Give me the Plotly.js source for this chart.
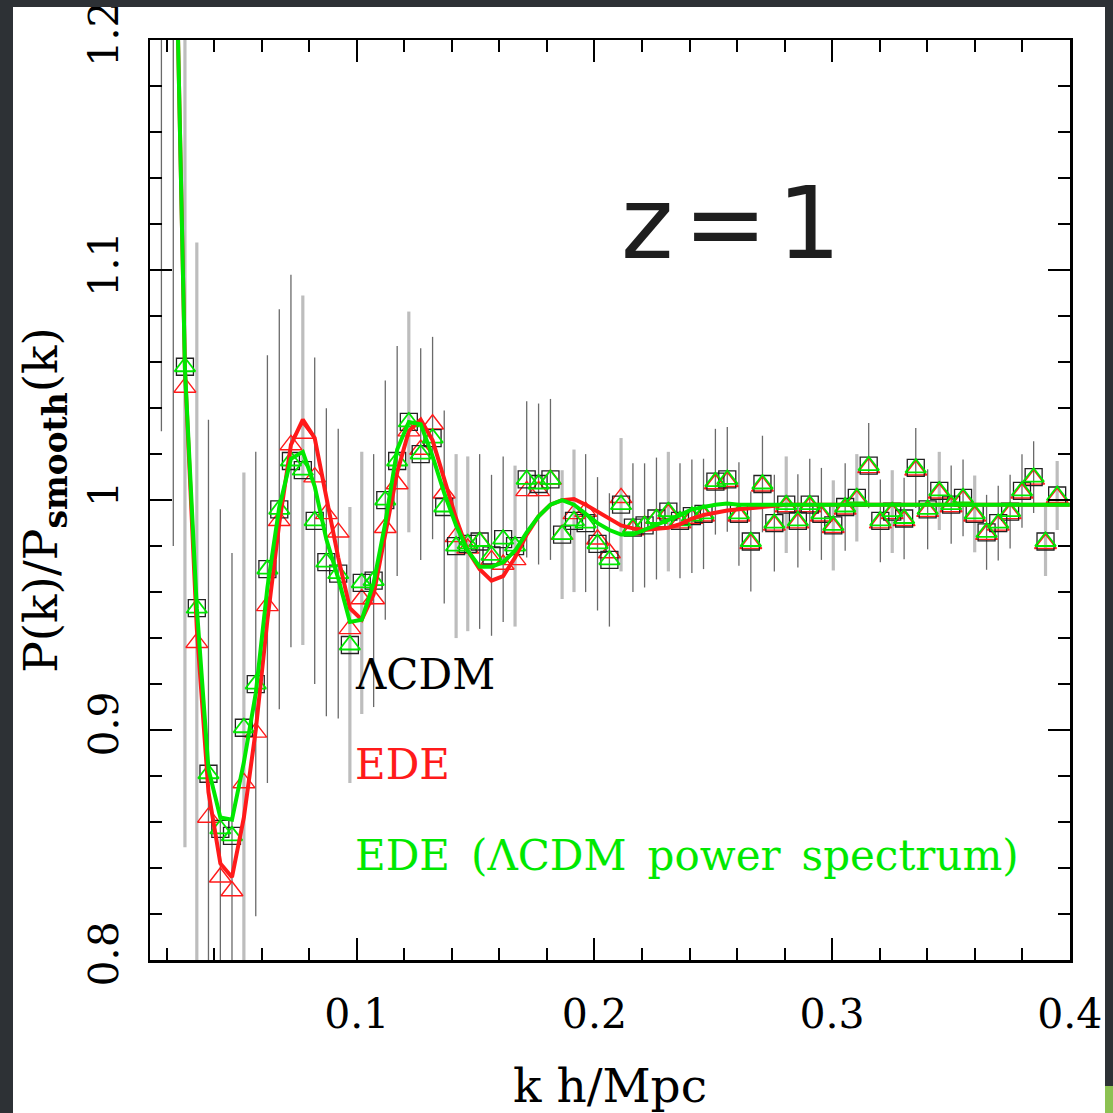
<!DOCTYPE html>
<html><head><meta charset="utf-8">
<script src="https://cdn.plot.ly/plotly-3.0.1.min.js"></script>
<style>
html,body{margin:0;padding:0;background:#2d3135;width:1113px;height:1113px;overflow:hidden}
#chart{position:absolute;left:13px;top:7px;width:1092px;height:1106px;background:#fff}
#corner{position:absolute;left:1105px;top:1086px;width:8px;height:27px;background:#8cc152}
</style></head><body>
<div id="chart"></div><div id="corner"></div>
<script>
// k bins (h/Mpc); the first two have their points above the frame
const k = [0.0178, 0.0228,
  0.0277, 0.0327, 0.0376, 0.0426, 0.0475, 0.0525, 0.0575, 0.0624, 0.0674, 0.0723,
  0.0773, 0.0823, 0.0872, 0.0922, 0.0971, 0.1021, 0.1071, 0.1120, 0.1170, 0.1219,
  0.1269, 0.1319, 0.1368, 0.1418, 0.1467, 0.1517, 0.1567, 0.1616, 0.1666, 0.1715,
  0.1765, 0.1815, 0.1864, 0.1914, 0.1963, 0.2013, 0.2063, 0.2112, 0.2162, 0.2211,
  0.2261, 0.2311, 0.2360, 0.2410, 0.2459, 0.2509, 0.2559, 0.2608, 0.2658, 0.2707,
  0.2757, 0.2807, 0.2856, 0.2906, 0.2955, 0.3005, 0.3055, 0.3104, 0.3154, 0.3203,
  0.3253, 0.3303, 0.3352, 0.3402, 0.3451, 0.3501, 0.3551, 0.3600, 0.3650, 0.3699,
  0.3749, 0.3799, 0.3848, 0.3898, 0.3947];
// LambdaCDM measured ratio (black squares; the green triangles sit on the same values)
const lcdm = [1.32, 1.30,
  1.058, 0.953, 0.881, 0.857, 0.854, 0.901, 0.920, 0.970, 0.996, 1.017,
  1.013, 0.991, 0.973, 0.968, 0.937, 0.964, 0.965, 1.000, 1.017, 1.034,
  1.020, 1.027, 0.997, 0.980, 0.981, 0.982, 0.976, 0.983, 0.980, 1.009,
  1.007, 1.009, 0.985, 0.991, 0.990, 0.981, 0.974, 0.998, 0.988, 0.989,
  0.992, 0.995, 0.991, 0.993, 0.994, 1.008, 1.009, 0.994, 0.982, 1.007,
  0.990, 0.998, 0.991, 0.998, 0.994, 0.989, 0.997, 1.001, 1.015, 0.991,
  0.995, 0.992, 1.014, 0.996, 1.004, 0.998, 1.001, 0.994, 0.986, 0.990,
  0.995, 1.004, 1.010, 0.982, 1.002];
// EDE measured ratio (red triangles)
const ede = [1.32, 1.30,
  1.049, 0.938, 0.862, 0.836, 0.830, 0.877, 0.899, 0.954, 0.991, 1.024,
  1.029, 1.010, 0.994, 0.986, 0.944, 0.957, 0.957, 0.988, 1.007, 1.030,
  1.022, 1.033, 1.003, 0.984, 0.979, 0.982, 0.974, 0.972, 0.974, 1.004,
  1.004, 1.009, 0.985, 0.994, 0.995, 0.983, 0.977, 1.001, 0.987, 0.989,
  0.992, 0.994, 0.990, 0.992, 0.993, 1.007, 1.008, 0.993, 0.981, 1.006,
  0.989, 0.997, 0.990, 0.997, 0.993, 0.988, 0.996, 1.000, 1.014, 0.990,
  0.994, 0.991, 1.013, 0.995, 1.003, 0.997, 1.000, 0.993, 0.985, 0.989,
  0.994, 1.003, 1.009, 0.981, 1.001];
// half length of the error bars
const errHalf = [0.29, 0.32,
  0.209, 0.159, 0.154, 0.139, 0.123, 0.111, 0.101, 0.093, 0.087, 0.081,
  0.076, 0.071, 0.067, 0.063, 0.060, 0.057, 0.055, 0.052, 0.050, 0.048,
  0.046, 0.044, 0.042, 0.040, 0.038, 0.038, 0.035, 0.036, 0.035, 0.034,
  0.035, 0.035, 0.028, 0.031, 0.030, 0.029, 0.029, 0.029, 0.028, 0.027,
  0.0265, 0.026, 0.025, 0.0247, 0.024, 0.023, 0.0228, 0.0225, 0.0217, 0.021,
  0.021, 0.021, 0.0203, 0.020, 0.020, 0.0196, 0.019, 0.019, 0.0185, 0.018,
  0.018, 0.0177, 0.0174, 0.0174, 0.017, 0.017, 0.0167, 0.0167, 0.0163, 0.0163,
  0.016, 0.016, 0.0156, 0.015, 0.015];
// bins whose error bar is drawn in the light grey tone (style)
const lightBarBins = [2, 3, 7, 12, 16, 17, 21, 25, 26, 30, 34, 35, 39, 43, 53, 57, 59, 62, 66, 69, 75, 76];

// model curves
const kCurve = [0.0240,
  0.0277, 0.0327, 0.0376, 0.0426, 0.0475, 0.0525, 0.0575, 0.0624, 0.0674, 0.0723,
  0.0773, 0.0823, 0.0872, 0.0922, 0.0971, 0.1021, 0.1071, 0.1120, 0.1170, 0.1219,
  0.1269, 0.1319, 0.1368, 0.1418, 0.1467, 0.1517, 0.1567, 0.1616, 0.1666, 0.1715,
  0.1765, 0.1815, 0.1864, 0.1914, 0.1963, 0.2013, 0.2063, 0.2112, 0.2162, 0.2211,
  0.2261, 0.2311, 0.2360, 0.2410, 0.2459, 0.2509, 0.2559, 0.2608, 0.2658, 0.2707,
  0.2757, 0.2807, 0.2856, 0.2906, 0.2955, 0.3005, 0.3055, 0.3104, 0.3154, 0.3203,
  0.3253, 0.3303, 0.3352, 0.3402, 0.3451, 0.3501, 0.3551, 0.3600, 0.3650, 0.3699,
  0.3749, 0.3799, 0.3848, 0.3898, 0.3947, 0.4000];
const edeCurve = [1.24,
  1.057, 0.944, 0.873, 0.842, 0.836, 0.862, 0.900, 0.948, 0.990, 1.024,
  1.035, 1.027, 1.001, 0.975, 0.953, 0.948, 0.959, 0.985, 1.012, 1.030,
  1.035, 1.026, 1.009, 0.992, 0.978, 0.970, 0.965, 0.967, 0.975, 0.985,
  0.993, 0.998, 1.000, 1.0005, 0.998, 0.995, 0.992, 0.989, 0.9877, 0.987,
  0.9875, 0.988, 0.9895, 0.992, 0.9935, 0.9945, 0.9955, 0.996, 0.9965, 0.997,
  0.9975, 0.998, 0.998, 0.998, 0.998, 0.998, 0.998, 0.998, 0.998, 0.998,
  0.998, 0.998, 0.998, 0.998, 0.998, 0.998, 0.998, 0.998, 0.998, 0.998,
  0.998, 0.998, 0.998, 0.998, 0.998, 0.998];
const edeLcdmPsCurve = [1.24,
  1.057, 0.953, 0.883, 0.862, 0.861, 0.886, 0.916, 0.962, 0.997, 1.018,
  1.021, 1.006, 0.983, 0.966, 0.947, 0.948, 0.964, 0.990, 1.022, 1.034,
  1.033, 1.019, 1.003, 0.989, 0.978, 0.971, 0.971, 0.973, 0.978, 0.986,
  0.993, 0.998, 1.000, 0.998, 0.994, 0.990, 0.987, 0.985, 0.985, 0.987,
  0.989, 0.9915, 0.9935, 0.996, 0.997, 0.998, 0.9985, 0.998, 0.998, 0.998,
  0.998, 0.998, 0.998, 0.998, 0.998, 0.998, 0.998, 0.998, 0.998, 0.998,
  0.998, 0.998, 0.998, 0.998, 0.998, 0.998, 0.998, 0.998, 0.998, 0.998,
  0.998, 0.998, 0.998, 0.998, 0.998, 0.998];

const xTickVals = [0.1, 0.2, 0.3, 0.4];
const xTickText = ['0.1', '0.2', '0.3', '0.4'];
const yTickVals = [0.8, 0.9, 1.0, 1.1, 1.2];
const yTickText = ['0.8', '0.9', '1', '1.1', '1.2'];
const labels = {lcdm: '\u039BCDM', ede: 'EDE', edePs: 'EDE\u2002(\u039BCDM\u2002power\u2002spectrum)', z: 'z\u200A=\u200A1'};

const GREEN = '#00e800', RED = '#ff1a1a';
const isLight = i => lightBarBins.indexOf(i) >= 0;
const pick = (arr, light) => arr.filter((_, i) => isLight(i) === light);

function errTrace(light) {
  return {
    type: 'scatter', mode: 'markers', x: pick(k, light), y: pick(lcdm, light),
    marker: {size: 1, color: 'rgba(0,0,0,0)'}, hoverinfo: 'skip', showlegend: false,
    error_y: {type: 'data', symmetric: true, array: pick(errHalf, light), visible: true,
      color: light ? '#bdbdbd' : '#6a6a6a', thickness: light ? 3.2 : 1.3, width: 0}
  };
}

const traces = [
  errTrace(true), errTrace(false),
  {type: 'scatter', mode: 'markers', x: k, y: ede, showlegend: false,
   marker: {symbol: 'triangle-up-open', size: 19, color: RED, line: {width: 1.4, color: RED}}},
  {type: 'scatter', mode: 'markers', x: k, y: lcdm, showlegend: false,
   marker: {symbol: 'square-open', size: 17, color: '#222', line: {width: 1.3, color: '#222'}}},
  {type: 'scatter', mode: 'markers', x: k, y: lcdm, showlegend: false,
   marker: {symbol: 'triangle-up-open', size: 18, color: GREEN, line: {width: 1.8, color: GREEN}}},
  {type: 'scatter', mode: 'lines', x: kCurve, y: edeCurve, showlegend: false,
   line: {color: RED, width: 4}},
  {type: 'scatter', mode: 'lines', x: kCurve, y: edeLcdmPsCurve, showlegend: false,
   line: {color: GREEN, width: 4}}
];

const tickFont = {family: 'DejaVu Serif', size: 41, color: '#000'};
const axisCommon = {
  showgrid: false, zeroline: false, showline: true, linecolor: '#000', linewidth: 2.5,
  mirror: 'allticks', ticks: 'inside', ticklen: 22, tickwidth: 2, tickcolor: '#000',
  tickfont: tickFont, tickmode: 'array', ticklabeloverflow: 'allow'
};

const layout = {
  width: 1092, height: 1106,
  margin: {l: 137, r: 35, t: 33, b: 153},
  paper_bgcolor: '#fff', plot_bgcolor: '#fff', showlegend: false,
  xaxis: Object.assign({}, axisCommon, {
    range: [0.013, 0.4001], tickvals: xTickVals, ticktext: xTickText, ticklabelstandoff: 16,
    minor: {tickmode: 'linear', tick0: 0, dtick: 0.02, ticks: 'inside', ticklen: 12, tickwidth: 2, tickcolor: '#000'},
    title: {text: 'k h/Mpc', font: {family: 'DejaVu Serif', size: 47, color: '#000'}, standoff: 42}
  }),
  yaxis: Object.assign({}, axisCommon, {
    range: [0.8, 1.2001], tickvals: yTickVals, ticktext: yTickText, tickangle: -90, ticklabelstandoff: 13,
    minor: {tickmode: 'linear', tick0: 0.8, dtick: 0.02, ticks: 'inside', ticklen: 12, tickwidth: 2, tickcolor: '#000'},
    title: {text: 'P(k)/P<sub><b>smooth</b></sub>(k)', font: {family: 'DejaVu Serif', size: 47, color: '#000'}, standoff: 25}
  }),
  annotations: [
    {xref: 'paper', yref: 'paper', x: 0.632, y: 0.800, xanchor: 'center', yanchor: 'middle', showarrow: false,
     text: labels.z, font: {family: 'DejaVu Sans', size: 100, color: '#1e1e1e'}},
    {xref: 'paper', yref: 'paper', x: 0.2207, y: 0.3098, xanchor: 'left', yanchor: 'middle', showarrow: false,
     text: labels.lcdm, font: {family: 'DejaVu Serif', size: 42, color: '#000'}},
    {xref: 'paper', yref: 'paper', x: 0.2207, y: 0.212, xanchor: 'left', yanchor: 'middle', showarrow: false,
     text: labels.ede, font: {family: 'DejaVu Serif', size: 42, color: RED}},
    {xref: 'paper', yref: 'paper', x: 0.2207, y: 0.1141, xanchor: 'left', yanchor: 'middle', showarrow: false,
     text: labels.edePs, font: {family: 'DejaVu Serif', size: 42, color: GREEN}}
  ]
};

Plotly.newPlot('chart', traces, layout, {staticPlot: true, displayModeBar: false});
</script>
</body></html>
